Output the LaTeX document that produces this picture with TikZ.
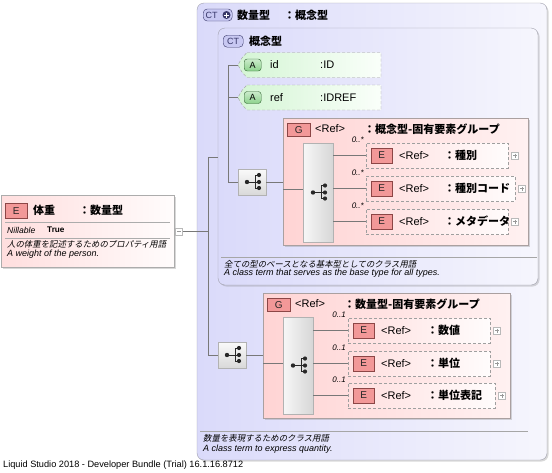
\documentclass[tikz,border=0pt]{standalone}
\usepackage{fontspec}
\setmainfont{Liberation Sans}
\newfontfamily\jpf{Noto Sans CJK JP}
\newfontfamily\jpsl[FakeSlant=0.2]{Noto Sans CJK JP}
\usetikzlibrary{shadows}

\definecolor{ctL}{RGB}{218,218,250}
\definecolor{ctR}{RGB}{246,246,253}
\definecolor{ctB}{RGB}{160,160,172}
\definecolor{grL}{RGB}{255,212,212}
\definecolor{grR}{RGB}{255,241,241}
\definecolor{grB}{RGB}{170,160,160}
\definecolor{elL}{RGB}{255,222,222}
\definecolor{elR}{RGB}{255,252,252}
\definecolor{atL}{RGB}{212,245,212}
\definecolor{atR}{RGB}{250,255,250}
\definecolor{lnC}{RGB}{120,120,120}
\definecolor{ebF}{RGB}{242,152,152}
\definecolor{ebB}{RGB}{140,70,70}
\definecolor{abF}{RGB}{140,210,140}
\definecolor{abB}{RGB}{50,100,50}
\definecolor{ctbF}{RGB}{200,200,242}
\definecolor{ctbB}{RGB}{55,55,105}
\definecolor{glyphC}{RGB}{40,40,40}

\tikzset{
  box/.style={anchor=north west, inner sep=0pt, outer sep=0pt},
  shad/.style={drop shadow={shadow xshift=1.5pt, shadow yshift=-1.5pt, opacity=0.3}},
  ctbox/.style={box, draw=ctB, rounded corners=7pt, left color=ctL, right color=ctR, shad},
  grbox/.style={box, draw=grB, left color=grL, right color=grR, shad},
  elbox/.style={box, draw=gray!75, dash pattern=on 3pt off 2pt, left color=elL, right color=elR, minimum height=25pt},
  atshape/.style={draw=gray!75, dash pattern=on 3pt off 2pt, left color=atL, right color=atR},
  ebadge/.style={draw=ebB, fill=ebF, minimum width=21pt, minimum height=15pt, inner sep=0pt,
     font=\fontsize{10}{10}\selectfont, text=black!85},
  gbadge/.style={ebadge, minimum width=23pt, minimum height=13pt},
  abadge/.style={draw=abB, top color=abF!45, bottom color=abF, rounded corners=3pt, minimum width=17pt, minimum height=12pt,
     inner sep=0pt, font=\fontsize{9}{9}\selectfont},
  ctbadge/.style={draw=ctbB, fill=ctbF, rounded corners=4pt, minimum height=12pt, inner sep=0pt,
     font=\fontsize{9}{9}\selectfont, text=ctbB},
  seqicon/.style={box, draw=gray!60, top color=gray!4, bottom color=gray!30, minimum width=28pt, minimum height=26pt},
  seqbar/.style={box, draw=gray!60, left color=gray!6, right color=gray!32, minimum width=30pt},
  plusbox/.style={draw=gray!55, fill=white, minimum size=7pt, inner sep=0pt,
     path picture={\draw[gray!80, line width=0.5pt] ([xshift=1.5pt]path picture bounding box.west) -- ([xshift=-1.5pt]path picture bounding box.east) ([yshift=-1.5pt]path picture bounding box.north) -- ([yshift=1.5pt]path picture bounding box.south);}},
  minusbox/.style={draw=gray!55, fill=white, minimum size=7pt, inner sep=0pt,
     path picture={\draw[gray!80, line width=0.5pt] ([xshift=1.5pt]path picture bounding box.west) -- ([xshift=-1.5pt]path picture bounding box.east);}},
  conn/.style={draw=lnC, line width=0.6pt},
  ttl/.style={anchor=west, inner sep=0pt, font=\fontsize{11}{11}\selectfont\jpf\bfseries},
  lat/.style={anchor=west, inner sep=0pt, font=\fontsize{11}{11}\selectfont},
  capen/.style={anchor=west, inner sep=0pt, font=\fontsize{9}{9}\selectfont\itshape},
  capj/.style={anchor=west, inner sep=0pt, font=\fontsize{8.4}{8.4}\selectfont\jpsl},
  mult/.style={anchor=east, inner sep=0pt, font=\fontsize{8}{8}\selectfont\itshape},
  seqglyph/.pic={
    \draw[glyphC, line width=0.9pt] (-5,0) -- (7,0) (3,-7) -- (3,6) (3,-7) -- (7,-7) (3,6) -- (7,6);
    \fill[glyphC] (-5,0) circle (2.2pt) (7,-7) circle (2.1pt) (7,0) circle (2.1pt) (7,6) circle (2.1pt);
  }
}

\begin{document}
\begin{tikzpicture}[x=1pt,y=-1pt]
\useasboundingbox (0,0) rectangle (552,472);
\fill[white] (0,0) rectangle (552,472);

% ---------- outer complex type
\node[ctbox, minimum width=350pt, minimum height=457pt] (outer) at (197,3) {};
\node[ctbadge, anchor=west, minimum width=29pt] (ctp) at (203,15) {};
\node[anchor=west, inner sep=0pt, font=\fontsize{9}{9}\selectfont, text=ctbB] (ctplab) at (205.5,15) {CT};
\fill[ctbB] (226.5,15) circle (4pt);
\draw[white, line width=1pt] (224,15) -- (229,15) (226.5,12.5) -- (226.5,17.5);
\node[ttl] (outerT) at (237,15) {数量型};
\node[ttl] (outerT2) at (284,15) {：概念型};

% ---------- inner complex type
\node[ctbox, minimum width=320pt, minimum height=257pt] (inner) at (218,28) {};
\node[ctbadge, anchor=north west, minimum width=20pt] (ctb) at (223,35) {CT};
\node[ttl] (innerT) at (249,41) {概念型};

% attributes
\node[box, minimum width=143pt, minimum height=25pt] (id) at (238,52.5) {};
\path[atshape] ([xshift=9pt]id.north west) -- (id.north east) -- (id.south east) -- ([xshift=9pt]id.south west)
   .. controls ([shift={(4pt,5pt)}]id.south west) .. (id.west)
   .. controls ([shift={(4pt,-5pt)}]id.north west) .. cycle;
\node[abadge, anchor=west] (idA) at (244,65) {A};
\node[lat] (idN) at (270,65) {id};
\node[lat] (idT) at (320,65) {:ID};
\node[box, minimum width=143pt, minimum height=25pt] (ref) at (238,85) {};
\path[atshape] ([xshift=9pt]ref.north west) -- (ref.north east) -- (ref.south east) -- ([xshift=9pt]ref.south west)
   .. controls ([shift={(4pt,5pt)}]ref.south west) .. (ref.west)
   .. controls ([shift={(4pt,-5pt)}]ref.north west) .. cycle;
\node[abadge, anchor=west] (refA) at (244,97.5) {A};
\node[lat] (refN) at (270,97.5) {ref};
\node[lat] (refT) at (320,97.5) {:IDREF};

% sequence icon 1
\node[seqicon] (ic1) at (238,169) {};
\pic at (ic1.center) {seqglyph};

% group 1
\node[grbox, minimum width=245pt, minimum height=127pt] (g1) at (283,118) {};
\node[gbadge, anchor=north west] (g1b) at (287,123) {G};
\node[lat] (g1r) at (315,129) {<Ref>};
\node[ttl] (g1t) at (364,129) {：概念型-固有要素グループ};
\node[seqbar, minimum height=99pt] (b1) at (303,143) {};
\pic at (b1.center) {seqglyph};

\node[elbox, minimum width=142pt] (e11) at (366,143) {};
\node[ebadge, anchor=west] (e11b) at ([xshift=5pt]e11.west) {E};
\node[lat] (e11r) at ([xshift=33pt]e11.west) {<Ref>};
\node[ttl] (e11t) at ([xshift=78pt]e11.west) {：種別};
\node[plusbox] (p11) at ([xshift=7pt]e11.east) {};
\node[mult] (m11) at ([shift={(-2pt,3pt)}]e11.north west) {0..*};

\node[elbox, minimum width=149pt] (e12) at (366,176) {};
\node[ebadge, anchor=west] (e12b) at ([xshift=5pt]e12.west) {E};
\node[lat] (e12r) at ([xshift=33pt]e12.west) {<Ref>};
\node[ttl] (e12t) at ([xshift=78pt]e12.west) {：種別コード};
\node[plusbox] (p12) at ([xshift=7pt]e12.east) {};
\node[mult] (m12) at ([shift={(-2pt,3pt)}]e12.north west) {0..*};

\node[elbox, minimum width=142pt] (e13) at (366,209) {};
\node[ebadge, anchor=west] (e13b) at ([xshift=5pt]e13.west) {E};
\node[lat] (e13r) at ([xshift=33pt]e13.west) {<Ref>};
\node[ttl] (e13t) at ([xshift=78pt]e13.west) {：メタデータ};
\node[plusbox] (p13) at ([xshift=7pt]e13.east) {};
\node[mult] (m13) at ([shift={(-2pt,3pt)}]e13.north west) {0..*};

% inner caption
\draw[gray!70] (221,257) -- (537,257);
\node[capj] (c1j) at (224,264) {全ての型のベースとなる基本型としてのクラス用語};
\node[capen] (c1e) at (224,273.5) {A class term that serves as the base type for all types.};

% ---------- sequence icon 2 and group 2
\node[seqicon] (ic2) at (218,342) {};
\pic at (ic2.center) {seqglyph};

\node[grbox, minimum width=247pt, minimum height=125pt] (g2) at (263,293) {};
\node[gbadge, anchor=north west] (g2b) at (267,298) {G};
\node[lat] (g2r) at (295,304) {<Ref>};
\node[ttl] (g2t) at (344,304) {：数量型-固有要素グループ};
\node[seqbar, minimum height=97pt] (b2) at (283,317) {};
\pic at (b2.center) {seqglyph};

\node[elbox, minimum width=142pt] (e21) at (348,318) {};
\node[ebadge, anchor=west] (e21b) at ([xshift=5pt]e21.west) {E};
\node[lat] (e21r) at ([xshift=33pt]e21.west) {<Ref>};
\node[ttl] (e21t) at ([xshift=79pt]e21.west) {：数値};
\node[plusbox] (p21) at ([xshift=7pt]e21.east) {};
\node[mult] (m21) at ([shift={(-2pt,3pt)}]e21.north west) {0..1};

\node[elbox, minimum width=142pt] (e22) at (348,351) {};
\node[ebadge, anchor=west] (e22b) at ([xshift=5pt]e22.west) {E};
\node[lat] (e22r) at ([xshift=33pt]e22.west) {<Ref>};
\node[ttl] (e22t) at ([xshift=79pt]e22.west) {：単位};
\node[plusbox] (p22) at ([xshift=7pt]e22.east) {};
\node[mult] (m22) at ([shift={(-2pt,3pt)}]e22.north west) {0..1};

\node[elbox, minimum width=147pt] (e23) at (348,383) {};
\node[ebadge, anchor=west] (e23b) at ([xshift=5pt]e23.west) {E};
\node[lat] (e23r) at ([xshift=33pt]e23.west) {<Ref>};
\node[ttl] (e23t) at ([xshift=79pt]e23.west) {：単位表記};
\node[plusbox] (p23) at ([xshift=7pt]e23.east) {};
\node[mult] (m23) at ([shift={(-2pt,3pt)}]e23.north west) {0..1};

% outer caption
\draw[gray!70] (200,431) -- (528,431);
\node[capj] (c2j) at (203,438.5) {数量を表現するためのクラス用語};
\node[capen] (c2e) at (203,449) {A class term to express quantity.};

% ---------- left element
\node[box, draw=gray!65, left color=elL, right color=elR, minimum width=173pt, minimum height=72pt, shad] (weight) at (1,195) {};
\node[ebadge, anchor=north west, minimum width=22pt] (wb) at (5,203) {E};
\node[ttl] (wn) at (33,210) {体重};
\node[ttl] (wt) at (79,210) {：数量型};
\draw[gray!65] (5,222) -- (170,222);
\node[anchor=west, inner sep=0pt, font=\fontsize{8.6}{8.6}\selectfont\itshape] (nil) at (7,230) {Nillable};
\node[anchor=west, inner sep=0pt, font=\fontsize{8.2}{8.2}\selectfont\bfseries] (tru) at (47,229.5) {True};
\draw[gray!65] (5,238) -- (170,238);
\node[capj] (wj) at (7,244) {人の体重を記述するためのプロパティ用語};
\node[capen] (we) at (7,254.5) {A weight of the person.};
\node[minusbox] (minus) at (179,231.5) {};

% ---------- connectors
\coordinate (tr) at (208,231.5);
\coordinate (trTop) at (208,157);
\coordinate (trBot) at (208,355);
\draw[conn] (minus.east) -- (tr);
\draw[conn] (trTop) -- (trBot);
\draw[conn] (trTop) -- (trTop -| inner.west);
\draw[conn] (trBot) -- (ic2.west);

\coordinate (itTop) at (228,65);
\coordinate (itBot) at (228,182);
\draw[conn] (itTop) -- (itBot);
\draw[conn] (itTop) -- (id.west);
\draw[conn] (ref.west -| itTop) -- (ref.west);
\draw[conn] (itBot) -- (ic1.west);

\draw[conn] (ic1.east) -- (ic1.east -| g1.west);
\coordinate (g1in) at (283,189.5);
\draw[conn] (g1in) -- (g1in -| b1.west);
\draw[conn] (b1.east |- e11.west) -- (e11.west);
\draw[conn] (b1.east |- e12.west) -- (e12.west);
\draw[conn] (b1.east |- e13.west) -- (e13.west);

\draw[conn] (ic2.east) -- (ic2.east -| g2.west);
\coordinate (g2in) at (263,363);
\draw[conn] (g2in) -- (g2in -| b2.west);
\draw[conn] (b2.east |- e21.west) -- (e21.west);
\draw[conn] (b2.east |- e22.west) -- (e22.west);
\draw[conn] (b2.east |- e23.west) -- (e23.west);

% footer
\node[anchor=west, inner sep=0pt, font=\fontsize{9.2}{9.2}\selectfont] (foot) at (3,465) {Liquid Studio 2018 - Developer Bundle (Trial) 16.1.16.8712};
\end{tikzpicture}
\end{document}
